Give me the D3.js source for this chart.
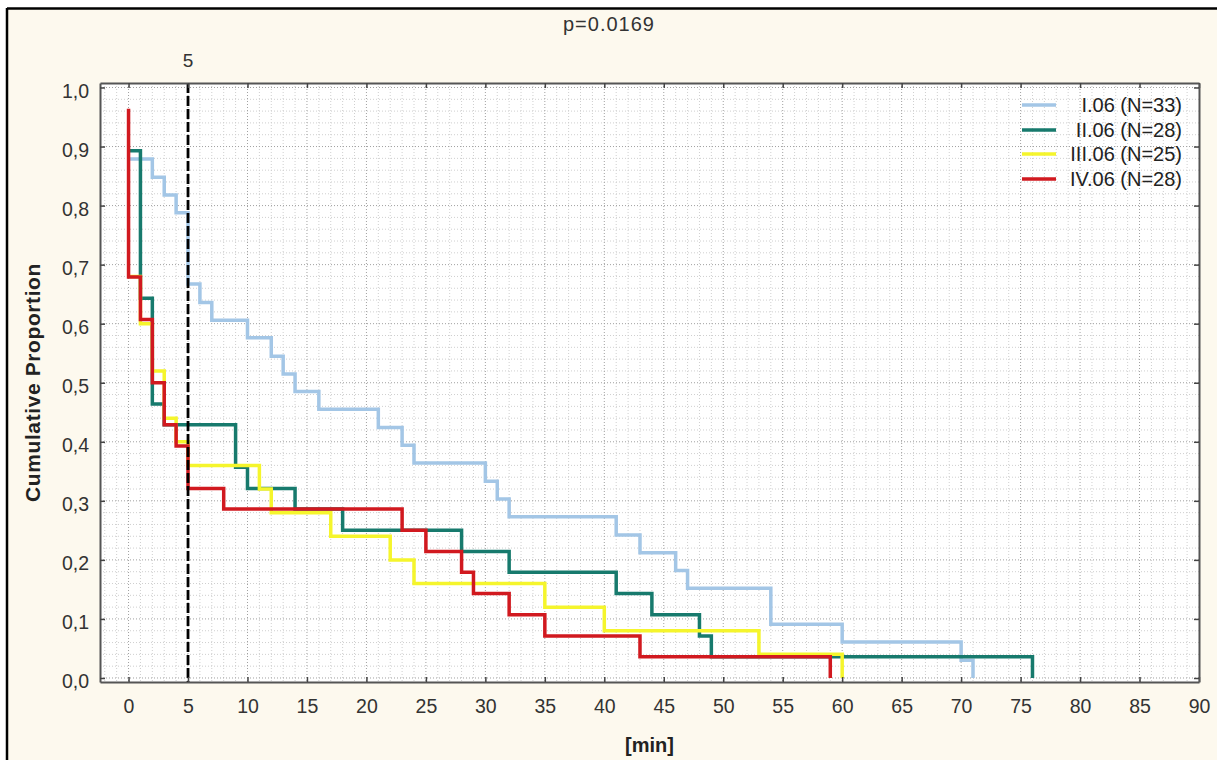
<!DOCTYPE html>
<html>
<head>
<meta charset="utf-8">
<script src="https://cdn.jsdelivr.net/npm/d3@7"></script>
<style>
  html, body { margin: 0; padding: 0; background: #ffffff; }
  svg { display: block; }
  text { font-family: "Liberation Sans", Arial, sans-serif; }
</style>
</head>
<body>
<svg id="chart" width="1217" height="760"></svg>
<script>
// ---------------- data ----------------
const title = "p=0.0169";
const xLabel = "[min]";
const yLabel = "Cumulative Proportion";
const refLineValue = 5;
const refLineLabel = "5";

const categories = ["I.06 (N=33)", "II.06 (N=28)", "III.06 (N=25)", "IV.06 (N=28)"];

// Step points: time (min) and cumulative proportion after that time
const timesI  = [0, 2, 3, 4, 5, 6, 7, 10, 12, 13, 14, 16, 21, 23, 24, 30, 31, 32, 41, 43, 46, 47, 54, 60, 70, 71];
const valuesI = [0.879, 0.848, 0.818, 0.788, 0.667, 0.636, 0.606, 0.576, 0.545, 0.515, 0.485, 0.455, 0.424, 0.394, 0.364, 0.333, 0.303, 0.273, 0.242, 0.212, 0.182, 0.152, 0.091, 0.061, 0.030, 0];

const timesII  = [0, 1, 2, 3, 9, 10, 14, 18, 28, 32, 41, 44, 48, 49, 76];
const valuesII = [0.893, 0.643, 0.464, 0.429, 0.357, 0.321, 0.286, 0.250, 0.214, 0.179, 0.143, 0.107, 0.071, 0.036, 0];

const timesIII  = [0, 1, 2, 3, 4, 5, 11, 12, 17, 22, 24, 35, 40, 53, 60];
const valuesIII = [0.68, 0.60, 0.52, 0.44, 0.40, 0.36, 0.32, 0.28, 0.24, 0.20, 0.16, 0.12, 0.08, 0.04, 0];

const timesIV  = [0, 0, 1, 2, 3, 4, 5, 8, 23, 25, 28, 29, 32, 35, 43, 59];
const valuesIV = [0.964, 0.679, 0.607, 0.500, 0.429, 0.393, 0.321, 0.286, 0.250, 0.214, 0.179, 0.143, 0.107, 0.071, 0.036, 0];

const xTickValues = [0, 5, 10, 15, 20, 25, 30, 35, 40, 45, 50, 55, 60, 65, 70, 75, 80, 85, 90];
const yTickValues = [0, 0.1, 0.2, 0.3, 0.4, 0.5, 0.6, 0.7, 0.8, 0.9, 1.0];

const colors = ["#a3c6e6", "#177a6d", "#f5f52c", "#d1191f"];

// ---------------- layout ----------------
const svg = d3.select("#chart");
const W = 1217, H = 760;
const plot = { left: 100, right: 1199, top: 83, bottom: 682 };

const x = d3.scaleLinear().domain([-2.4, 90]).range([plot.left, plot.right]);
const y = d3.scaleLinear().domain([-0.0068, 1.0076]).range([plot.bottom, plot.top]);

// outer background & frame
svg.append("rect").attr("x", 7).attr("y", 8).attr("width", W - 7).attr("height", H - 8)
  .attr("fill", "#fdf9ee");
svg.append("line").attr("x1", 7).attr("x2", W).attr("y1", 8.5).attr("y2", 8.5)
  .attr("stroke", "#000").attr("stroke-width", 2.5);
svg.append("line").attr("x1", 7).attr("x2", 7).attr("y1", 8).attr("y2", H)
  .attr("stroke", "#000").attr("stroke-width", 2.5);

// plot background
svg.append("rect").attr("x", plot.left).attr("y", plot.top)
  .attr("width", plot.right - plot.left).attr("height", plot.bottom - plot.top)
  .attr("fill", "#ffffff");

// grid
const grid = svg.append("g");
const minorX = d3.range(-2, 90, 1).filter(v => v % 5 !== 0);
const minorY = d3.range(1, 50, 1).map(i => i * 0.02).filter((v, i) => (i + 1) % 5 !== 0);
grid.selectAll(".mx").data(minorX).join("line")
  .attr("x1", d => x(d)).attr("x2", d => x(d)).attr("y1", plot.top).attr("y2", plot.bottom)
  .attr("stroke", "#cfcfcf").attr("stroke-width", 1).attr("stroke-dasharray", "1,2");
grid.selectAll(".my").data(minorY).join("line")
  .attr("x1", plot.left).attr("x2", plot.right).attr("y1", d => y(d)).attr("y2", d => y(d))
  .attr("stroke", "#cfcfcf").attr("stroke-width", 1).attr("stroke-dasharray", "1,2");
grid.selectAll(".Mx").data(xTickValues.filter(v => v < 90)).join("line")
  .attr("x1", d => x(d)).attr("x2", d => x(d)).attr("y1", plot.top).attr("y2", plot.bottom)
  .attr("stroke", "#a0a0a0").attr("stroke-width", 1).attr("stroke-dasharray", "1,2");
grid.selectAll(".My").data(yTickValues).join("line")
  .attr("x1", plot.left).attr("x2", plot.right).attr("y1", d => y(d)).attr("y2", d => y(d))
  .attr("stroke", "#a0a0a0").attr("stroke-width", 1).attr("stroke-dasharray", "1,2");

// series
const series = [
  { name: categories[0], t: timesI, v: valuesI, color: colors[0] },
  { name: categories[1], t: timesII, v: valuesII, color: colors[1] },
  { name: categories[2], t: timesIII, v: valuesIII, color: colors[2] },
  { name: categories[3], t: timesIV, v: valuesIV, color: colors[3] }
];
const line = d3.line().x(d => x(d[0])).y(d => y(d[1])).curve(d3.curveStepAfter);
const gLines = svg.append("g");
series.forEach(s => {
  const pts = s.t.map((t, i) => [t, s.v[i]]);
  gLines.append("path").attr("d", line(pts))
    .attr("fill", "none").attr("stroke", s.color).attr("stroke-width", 3.5)
    .attr("stroke-linejoin", "miter").attr("stroke-linecap", "butt");
});

// reference dashed line at 5
svg.append("line")
  .attr("x1", x(refLineValue)).attr("x2", x(refLineValue))
  .attr("y1", plot.top).attr("y2", plot.bottom)
  .attr("stroke", "#000").attr("stroke-width", 2.8).attr("stroke-dasharray", "10,3");
svg.append("text").attr("x", x(refLineValue)).attr("y", 67)
  .attr("text-anchor", "middle").attr("font-size", 19).attr("fill", "#333")
  .text(refLineLabel);

// axes
const fmtY = d => d.toFixed(1).replace(".", ",");
const axBottom = svg.append("g").attr("transform", `translate(0,${plot.bottom})`)
  .call(d3.axisBottom(x).tickValues(xTickValues).tickSize(-5).tickSizeOuter(0).tickPadding(17.5));
const axLeft = svg.append("g").attr("transform", `translate(${plot.left},0)`)
  .call(d3.axisLeft(y).tickValues(yTickValues).tickFormat(fmtY).tickSize(-5).tickSizeOuter(0).tickPadding(11));
const axTop = svg.append("g").attr("transform", `translate(0,${plot.top})`)
  .call(d3.axisTop(x).tickValues(xTickValues).tickFormat("").tickSize(-5).tickSizeOuter(0));
const axRight = svg.append("g").attr("transform", `translate(${plot.right},0)`)
  .call(d3.axisRight(y).tickValues(yTickValues).tickFormat("").tickSize(-5).tickSizeOuter(0));

[axBottom, axLeft, axTop, axRight].forEach(g => {
  g.select(".domain").attr("stroke", "#555").attr("stroke-width", 2);
  g.selectAll(".tick line").attr("stroke", "#444").attr("stroke-width", 1.5);
  g.selectAll(".tick text").attr("fill", "#333").attr("font-size", 19.5)
    .attr("font-family", "'Liberation Sans', Arial, sans-serif");
});
axLeft.selectAll(".tick text").attr("dy", "0.5em");

// titles
svg.append("text").attr("x", 609).attr("y", 31).attr("text-anchor", "middle")
  .attr("font-size", 20).attr("letter-spacing", 1).attr("fill", "#333").text(title);
svg.append("text").attr("x", (plot.left + plot.right) / 2).attr("y", 752)
  .attr("text-anchor", "middle").attr("font-size", 20).attr("font-weight", "bold")
  .attr("fill", "#222").text(xLabel);
svg.append("text").attr("transform", `translate(40,${(plot.top + plot.bottom) / 2}) rotate(-90)`)
  .attr("text-anchor", "middle").attr("font-size", 21).attr("letter-spacing", 0.6).attr("font-weight", "bold")
  .attr("fill", "#222").text(yLabel);

// legend
const legend = svg.append("g");
const legendY = [105, 130, 154, 179];
series.forEach((s, i) => {
  legend.append("line").attr("x1", 1022).attr("x2", 1056)
    .attr("y1", legendY[i]).attr("y2", legendY[i])
    .attr("stroke", s.color).attr("stroke-width", 3.5);
  legend.append("text").attr("x", 1182).attr("y", legendY[i] + 7)
    .attr("text-anchor", "end").attr("font-size", 20).attr("fill", "#222")
    .text(s.name);
});
</script>
</body>
</html>
